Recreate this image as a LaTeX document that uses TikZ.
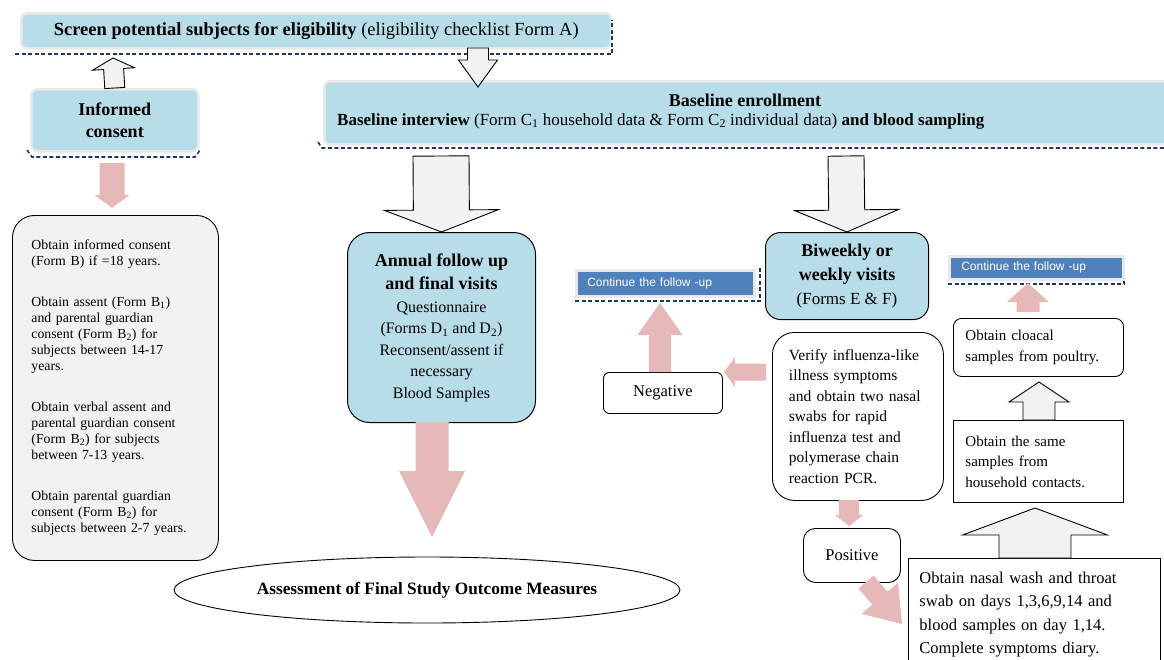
\documentclass[tikz,border=0pt]{standalone}
\usepackage{fontspec}
\setmainfont{Liberation Serif}
\newfontfamily\contfont{Liberation Sans}
\usetikzlibrary{calc,shapes.geometric}

\definecolor{boxblue}{HTML}{B7DDE8}
\definecolor{arrpink}{HTML}{E6B9B8}
\definecolor{boxgrey}{HTML}{F2F2F2}
\definecolor{contblue}{HTML}{4F81BD}
\definecolor{dashnavy}{HTML}{1F3864}
\definecolor{rimgrey}{HTML}{E9E9E9}

\newcommand{\setfs}[2]{\fontsize{#1}{#2}\selectfont}
% block arrow: style, tail, tip, half shaft, half head, head length
\newcommand{\blockarrow}[6]{%
  \coordinate (ba) at ($(#3)!#6!(#2)$);
  \path [#1] ($(#2)!#4!90:(#3)$) -- ($(ba)!#4!90:(#3)$) -- ($(ba)!#5!90:(#3)$) -- (#3)
    -- ($(ba)!#5!-90:(#3)$) -- ($(ba)!#4!-90:(#3)$) -- ($(#2)!#4!-90:(#3)$) -- cycle;
}

\begin{document}
\begin{tikzpicture}[x=1pt,y=-1pt]
            \tikzstyle{every node}=[font=\setfs{15}{20}, inner sep=0pt]
            \tikzstyle{bluebox}=[fill=boxblue, draw=rimgrey, line width=2.5pt, rounded corners=6, anchor=north west]
            \tikzstyle{roundbox}=[fill=boxblue, draw, line width=1pt, anchor=north west]
            \tikzstyle{plainbox}=[fill=white, draw, line width=0.9pt, anchor=north west]
            \tikzstyle{contbox}=[fill=contblue, draw=rimgrey, line width=2.5pt, anchor=north west, text=white, font=\contfont\setfs{12}{14}]
            \tikzstyle{navydash}=[draw=dashnavy, line width=1.6pt, dash pattern=on 4pt off 2.5pt]
            \tikzstyle{whitearr}=[draw, fill=boxgrey, line width=0.9pt]
            \tikzstyle{pinkarr}=[fill=arrpink]

            \useasboundingbox (0,0) rectangle (1164,659);
            \clip (0,0) rectangle (1164,659);

            \node [bluebox, minimum width=590pt, minimum height=35pt, font=\setfs{18.5}{22}] (scr) at (20,12) {\textbf{Screen potential subjects for eligibility} (eligibility checklist Form A)};
            \draw [navydash] (15,54) -- (612,54) -- (612,20);

            \node [bluebox, minimum width=167pt, minimum height=62pt, align=center, font=\setfs{18}{22}\bfseries] (inf) at (30,88) {Informed\\consent};
            \draw [navydash] (27,150) -- (32,157) -- (195,157) -- (200,150);

            \node [plainbox, fill=boxgrey, rounded corners=22, minimum width=206pt, minimum height=345pt, text width=168pt, align=left, font=\setfs{13.8}{16}] (cb) at (12,215) {Obtain informed consent\\(Form B) if =18 years.\\[25pt]Obtain assent (Form B\textsubscript{1})\\and parental guardian\\consent (Form B\textsubscript{2}) for\\subjects between 14-17\\years.\\[25pt]Obtain verbal assent and\\parental guardian consent\\(Form B\textsubscript{2}) for subjects\\between 7-13 years.\\[25pt]Obtain parental guardian\\consent (Form B\textsubscript{2}) for\\subjects between 2-7 years.};

            \node [bluebox, minimum width=860pt, minimum height=63pt] (base) at (323,80) {};
            \node [font=\setfs{18}{22}\bfseries] (basehead) at (745,100) {Baseline enrollment};
            \node [anchor=west, font=\setfs{17}{20}] (basetext) at (337,121) {\textbf{Baseline interview} (Form C\textsubscript{1} household data \& Form C\textsubscript{2} individual data) \textbf{and blood sampling}};
            \draw [navydash] (318,142) -- (322,148) -- (1164,148);

            \node [roundbox, rounded corners=22, minimum width=188pt, minimum height=190pt, align=center, font=\setfs{16}{21.5}] (ann) at (347,232) {\textbf{\setfs{18}{21.5}Annual follow up}\\[2pt]\textbf{\setfs{18}{21.5}and final visits}\\[1pt]Questionnaire\\(Forms D\textsubscript{1} and D\textsubscript{2})\\Reconsent/assent if\\necessary\\Blood Samples};

            \node [ellipse, draw, line width=0.9pt, minimum width=506pt, minimum height=66pt, font=\setfs{17.3}{20}\bfseries] (ell) at (427,590) {Assessment of Final Study Outcome Measures};

            \node [roundbox, rounded corners=15, minimum width=163pt, minimum height=87pt, align=center, font=\setfs{17}{24}] (bw) at (765,232) {\textbf{\setfs{18}{24}Biweekly or}\\\textbf{\setfs{18}{24}weekly visits}\\(Forms E \& F)};

            \node [contbox, minimum width=178pt, minimum height=26pt, text width=156pt, align=left] (cont1) at (575,269) {Continue the follow -up};
            \draw [navydash] (575,301) -- (760,301) -- (760,266);

            \node [plainbox, rounded corners=6, minimum width=119pt, minimum height=41pt, font=\setfs{16.5}{20}] (neg) at (603,372) {Negative};

            \node [plainbox, rounded corners=22, minimum width=171pt, minimum height=168pt, text width=138pt, align=left, font=\setfs{15.5}{20.5}] (vf) at (772,332) {Verify influenza-like\\illness symptoms\\and obtain two nasal\\swabs for rapid\\influenza test and\\polymerase chain\\reaction PCR.};

            \node [plainbox, rounded corners=12, minimum width=97pt, minimum height=54pt, font=\setfs{16.5}{20}] (pos) at (803,528) {Positive};

            \node [contbox, minimum width=174pt, minimum height=23pt, text width=150pt, align=left] (cont2) at (948,255) {Continue the follow -up};
            \draw [navydash] (948,284) -- (1124,284) -- (1124,278);

            \node [plainbox, rounded corners=8, minimum width=170pt, minimum height=58pt, text width=146pt, align=left, font=\setfs{15}{21}] (cl) at (953,318) {Obtain cloacal\\samples from poultry.};

            \node [plainbox, minimum width=170pt, minimum height=82pt, text width=146pt, align=left, font=\setfs{15}{20.5}] (hh) at (953,420) {Obtain the same\\samples from\\household contacts.};

            \node [plainbox, minimum width=252pt, minimum height=112pt, text width=230pt, align=left, font=\setfs{16.5}{23.5}] (fin) at (908,558) {Obtain nasal wash and throat\\swab on days 1,3,6,9,14 and\\blood samples on day 1,14.\\Complete symptoms diary.};

            \coordinate (scrin) at (113,58);
            \coordinate (scrout) at (478,48);
            \coordinate (basein) at (478,87);
            \coordinate (baseout1) at (441,156);
            \coordinate (baseout2) at (846,156);
            \coordinate (infout) at (112,163);
            \coordinate (cbin) at (112,208);
            \coordinate (annout) at (432,422);
            \coordinate (ellin) at (432,537);
            \coordinate (vfleft) at (766,372);
            \coordinate (negin) at (724,372);
            \coordinate (negout) at (660,372);
            \coordinate (cont1in) at (660,303);
            \coordinate (vfout) at (849,500);
            \coordinate (posin) at (849,526);
            \coordinate (posout) at (866,582);
            \coordinate (finin) at (902,624);
            \coordinate (finout) at (1035,558);
            \coordinate (hhin) at (1035,508);
            \coordinate (hhout) at (1039,420);
            \coordinate (clin) at (1039,382);
            \coordinate (clout) at (1028,312);
            \coordinate (cont2in) at (1028,283);

            \blockarrow{whitearr}{inf.north}{scrin}{10pt}{21pt}{11pt}
            \blockarrow{whitearr}{scrout}{basein}{10.5pt}{19.5pt}{27pt}
            \blockarrow{whitearr}{baseout1}{ann.north}{28pt}{57pt}{22pt}
            \blockarrow{whitearr}{baseout2}{bw.north}{18pt}{52pt}{22pt}
            \blockarrow{pinkarr}{infout}{cbin}{12.5pt}{17.5pt}{13pt}
            \blockarrow{pinkarr}{annout}{ellin}{16.5pt}{33pt}{66pt}
            \blockarrow{pinkarr}{vfleft}{negin}{8.5pt}{15pt}{11pt}
            \blockarrow{pinkarr}{negout}{cont1in}{11pt}{22.5pt}{32pt}
            \blockarrow{pinkarr}{vfout}{posin}{10pt}{14pt}{11pt}
            \blockarrow{pinkarr}{posout}{finin}{10pt}{24pt}{34pt}
            \blockarrow{whitearr}{finout}{hhin}{36pt}{72.5pt}{27pt}
            \blockarrow{whitearr}{hhout}{clin}{16pt}{30pt}{20pt}
            \blockarrow{pinkarr}{clout}{cont2in}{11.5pt}{21pt}{19pt}
\end{tikzpicture}
\end{document}
